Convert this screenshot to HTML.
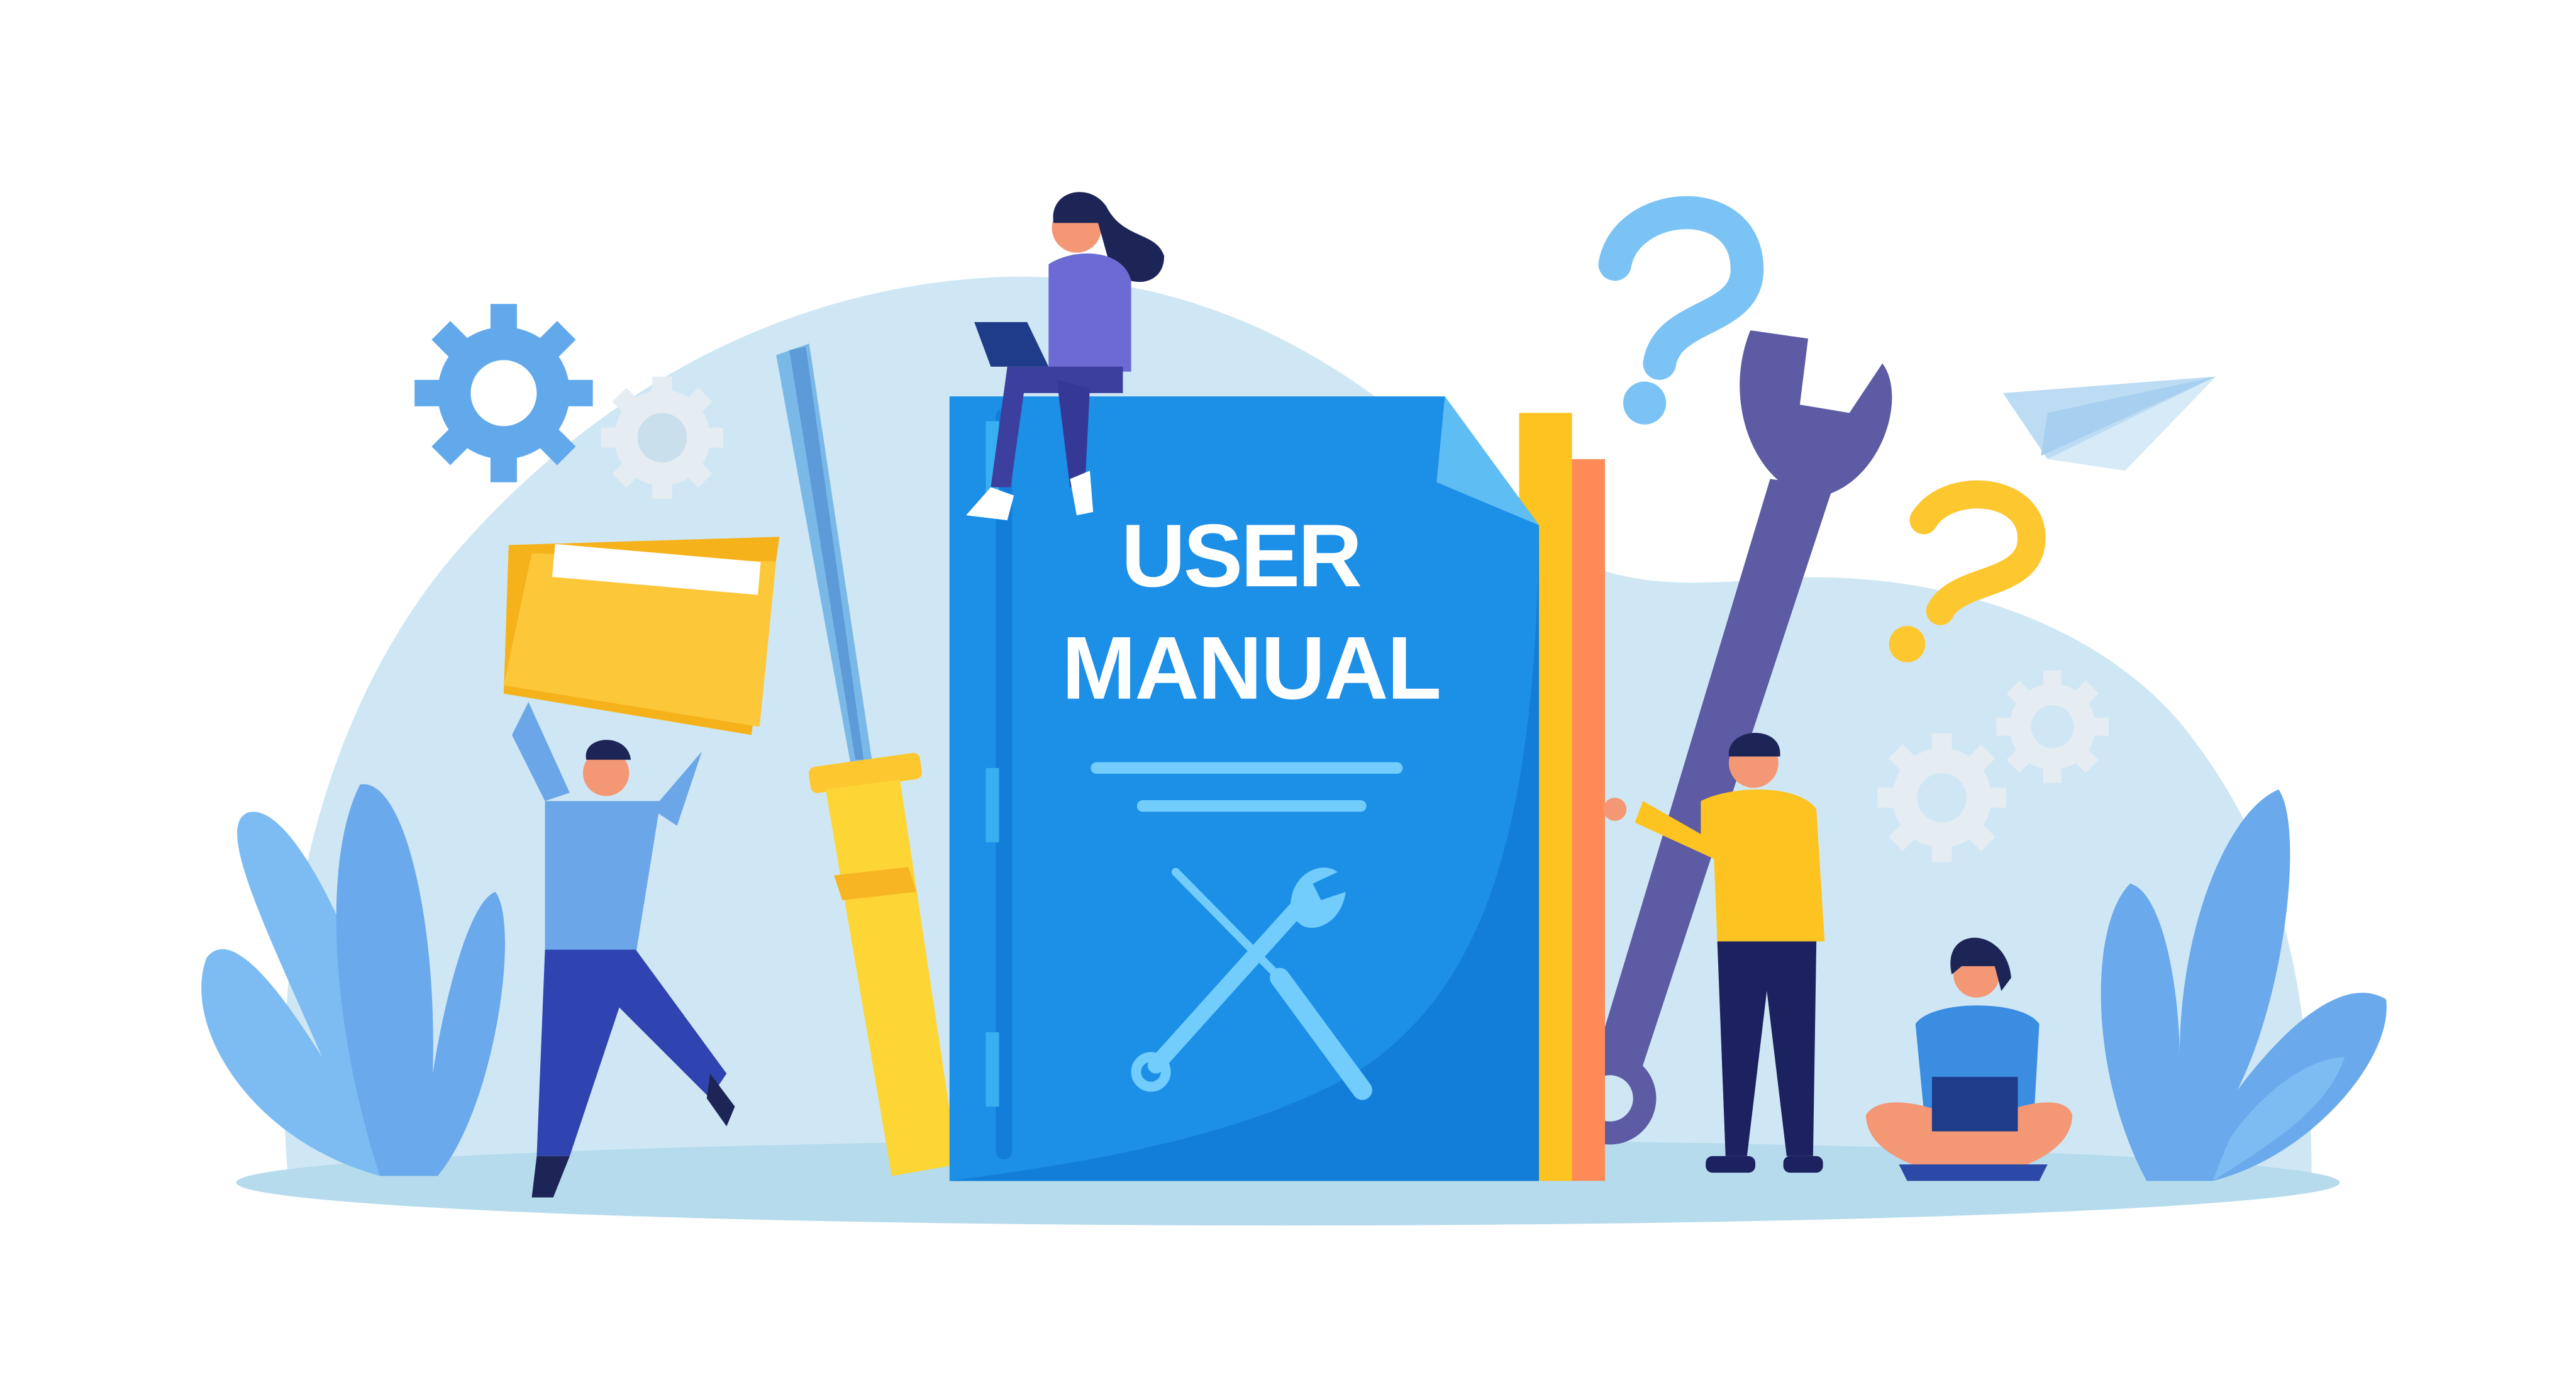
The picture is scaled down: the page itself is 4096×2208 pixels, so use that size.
<!DOCTYPE html>
<html><head><meta charset="utf-8"><style>
html,body{margin:0;padding:0;background:#fff;}
svg{display:block;}
</style></head><body>
<svg width="4096" height="2208" viewBox="0 0 1560 841" xmlns="http://www.w3.org/2000/svg">
<rect width="1560" height="841" fill="#fff"/>
<path d="M175 720 C160 560 200 420 280 330 C360 240 470 175 600 168 C720 162 820 215 900 300 C960 360 1010 355 1080 350 C1180 345 1280 380 1330 450 C1390 530 1400 620 1400 720 Z" fill="#cfe7f4"/>
<ellipse cx="780" cy="716" rx="637" ry="26" fill="#b6dbec"/>
<g fill="#62a9ec">
<circle cx="305" cy="238" r="40"/>
<g stroke="#62a9ec" stroke-width="16" stroke-linecap="butt">
<line x1="305" y1="184" x2="305" y2="292"/><line x1="251" y1="238" x2="359" y2="238"/>
<line x1="267" y1="200" x2="343" y2="276"/><line x1="343" y1="200" x2="267" y2="276"/>
</g></g>
<circle cx="305" cy="238" r="20" fill="#fff"/>
<g fill="#e6edf2">
<circle cx="401" cy="265" r="29"/>
<g stroke="#e6edf2" stroke-width="12"><line x1="401" y1="228" x2="401" y2="302"/><line x1="364" y1="265" x2="438" y2="265"/><line x1="375" y1="239" x2="427" y2="291"/><line x1="427" y1="239" x2="375" y2="291"/></g></g>
<circle cx="401" cy="265" r="15" fill="#c9dfec"/>
<g fill="#e6edf2">
<circle cx="1176" cy="483" r="30"/><g stroke="#e6edf2" stroke-width="12"><line x1="1176" y1="444" x2="1176" y2="522"/><line x1="1137" y1="483" x2="1215" y2="483"/><line x1="1148" y1="455" x2="1204" y2="511"/><line x1="1204" y1="455" x2="1148" y2="511"/></g>
<circle cx="1243" cy="440" r="26"/><g stroke="#e6edf2" stroke-width="11"><line x1="1243" y1="406" x2="1243" y2="474"/><line x1="1209" y1="440" x2="1277" y2="440"/><line x1="1219" y1="416" x2="1267" y2="464"/><line x1="1267" y1="416" x2="1219" y2="464"/></g></g>
<circle cx="1176" cy="483" r="15" fill="#cfe7f4"/><circle cx="1243" cy="440" r="13" fill="#cfe7f4"/>
<path d="M978 160 C985 120 1060 115 1058 165 C1056 195 1010 190 1005 220" fill="none" stroke="#7cc3f5" stroke-width="20" stroke-linecap="round"/>
<circle cx="996" cy="244" r="13" fill="#7cc3f5"/>
<path d="M1165 315 C1180 290 1235 295 1230 330 C1226 355 1185 350 1175 370" fill="none" stroke="#fdc72f" stroke-width="17" stroke-linecap="round"/>
<circle cx="1155" cy="390" r="11" fill="#fdc72f"/>
<polygon points="1213,238 1342,228 1240,278" fill="#bcdcf4"/>
<polygon points="1342,228 1240,278 1287,285" fill="#d6eaf8"/>
<polygon points="1240,250 1342,228 1236,276" fill="#a6cff0"/>
<g fill="#7dbcf2">
<path d="M230 712 C150 690 110 620 125 580 C140 560 170 600 195 640 C160 560 130 500 150 492 C175 485 210 560 230 620 Z"/>
<path d="M230 712 C200 620 195 520 218 475 C245 470 265 560 262 650 C270 600 285 545 300 540 C315 560 300 670 265 712 Z" fill="#6aa9ec"/>
</g>
<path d="M1300 715 C1265 650 1265 560 1290 535 C1310 540 1320 600 1320 640 C1320 560 1350 490 1380 478 C1395 500 1385 600 1355 660 C1385 620 1420 590 1445 605 C1450 640 1400 700 1340 715 Z" fill="#6aa9ec"/>
<path d="M1340 715 C1380 690 1410 670 1420 640 C1400 640 1370 660 1350 690 Z" fill="#7dbcf2"/>
<path d="M1072 290 L965 645 L990 660 L1110 295 Z" fill="#5c5ba4"/>
<path d="M1070 200 C1050 250 1080 305 1115 300 C1150 290 1165 240 1150 220 L1130 250 L1100 245 L1105 205 Z" fill="#5c5ba4" transform="translate(-10,0)"/>
<circle cx="975" cy="665" r="28" fill="#5c5ba4"/><circle cx="975" cy="665" r="14" fill="#cfe7f4"/>
<polygon points="470,215 490,208 528,460 515,462" fill="#7ab8e8"/>
<polygon points="478,212 488,210 523,460 518,460" fill="#5c9ad8"/>
<rect x="490" y="460" width="68" height="16" rx="4" fill="#fdc72f" transform="rotate(-8 524 468)"/>
<polygon points="500,478 545,472 580,705 540,712" fill="#fdd535"/>
<polygon points="505,530 550,525 555,540 510,545" fill="#f7b524"/>
<rect x="945" y="278" width="27" height="437" fill="#fd8a57"/>
<rect x="920" y="250" width="32" height="465" fill="#fdc321"/>
<polygon points="575,240 875,240 932,318 932,715 575,715" fill="#1c8fe7"/>
<path d="M932 318 C930 500 900 600 820 650 C750 690 650 705 575 715 L932 715 Z" fill="#137ed9"/>
<polygon points="875,240 932,318 870,292" fill="#5ebdf2"/>
<rect x="603" y="247" width="10" height="455" rx="5" fill="#137ed9"/>
<g fill="#37b0f2"><rect x="597" y="255" width="8" height="50"/><rect x="597" y="465" width="8" height="45"/><rect x="597" y="625" width="8" height="45"/></g>
<text x="752" y="355" text-anchor="middle" font-family="Liberation Sans, sans-serif" font-weight="bold" font-size="54" textLength="146" fill="#fff">USER</text>
<text x="758" y="423" text-anchor="middle" font-family="Liberation Sans, sans-serif" font-weight="bold" font-size="54" textLength="230" fill="#fff">MANUAL</text>
<line x1="664" y1="465" x2="846" y2="465" stroke="#72cdfd" stroke-width="7" stroke-linecap="round"/>
<line x1="692" y1="488" x2="824" y2="488" stroke="#72cdfd" stroke-width="7" stroke-linecap="round"/>
<g stroke="#72cdfd" stroke-linecap="round" fill="none">
<line x1="712" y1="528" x2="775" y2="592" stroke-width="5"/>
<line x1="775" y1="592" x2="825" y2="660" stroke-width="12"/>
<line x1="700" y1="645" x2="790" y2="545" stroke-width="10"/>
<circle cx="697" cy="649" r="9" stroke-width="6"/>
</g>
<path d="M782 555 C778 530 800 520 810 528 L795 535 L800 545 L815 540 C812 560 795 565 788 560 Z" fill="#72cdfd"/>
<circle cx="652" cy="138" r="15" fill="#f49775"/>
<path d="M638 135 C635 115 660 110 670 125 C680 145 700 140 705 155 C705 175 680 175 672 160 L665 135 Z" fill="#1d2456"/>
<path d="M635 160 C650 150 680 150 685 170 L685 225 L635 225 Z" fill="#6b6bd3"/>
<path d="M610 222 L680 222 L680 238 L620 238 L612 295 L600 295 Z" fill="#3c3f9e"/>
<path d="M640 230 L660 235 L657 295 L648 295 Z" fill="#353894"/>
<polygon points="590,195 622,195 635,222 600,222" fill="#1f3c8a"/>
<path d="M585 312 L600 295 L614 300 L610 315 Z" fill="#fff"/>
<path d="M648 290 L660 285 L662 310 L652 312 Z" fill="#fff"/>
<polygon points="308,330 472,325 455,445 305,420" fill="#f5b21b"/>
<polygon points="322,335 470,340 460,440 305,415" fill="#fdc73a"/>
<rect x="335" y="335" width="125" height="20" fill="#fff" transform="rotate(5 400 345)"/>
<circle cx="367" cy="468" r="14" fill="#f49775"/>
<path d="M355 460 C352 445 380 443 382 460 Z" fill="#1d2456"/>
<path d="M330 485 L400 485 L385 578 L330 575 Z" fill="#6ba6e8"/>
<path d="M330 485 L310 445 L320 425 L345 480 Z" fill="#6ba6e8"/>
<path d="M395 490 L425 455 L430 440 L410 500 Z" fill="#6ba6e8"/>
<path d="M330 575 L385 575 L440 650 L430 665 L375 610 L345 700 L325 700 Z" fill="#3044b1"/>
<path d="M325 700 L345 700 L335 725 L322 725 Z" fill="#1d2456"/>
<path d="M430 650 L445 670 L440 682 L428 665 Z" fill="#1d2456"/>
<circle cx="1062" cy="462" r="15" fill="#f49775"/>
<path d="M1047 458 C1045 440 1080 438 1078 458 Z" fill="#1d2456"/>
<path d="M1030 485 C1050 475 1090 475 1100 490 L1105 570 L1040 570 L1038 520 L990 498 L995 485 L1030 505 Z" fill="#fdc321"/>
<circle cx="978" cy="490" r="7" fill="#f49775"/>
<path d="M1040 570 L1100 570 L1098 700 L1082 700 L1070 600 L1058 700 L1045 700 Z" fill="#1c2160"/>
<rect x="1033" y="700" width="30" height="10" rx="4" fill="#1c2160"/><rect x="1080" y="700" width="24" height="10" rx="4" fill="#1c2160"/>
<circle cx="1197" cy="590" r="14" fill="#f49775"/>
<path d="M1182 590 C1175 560 1215 560 1218 592 L1212 600 L1208 585 L1188 585 Z" fill="#1d2456"/>
<path d="M1160 620 C1170 605 1225 605 1235 620 L1232 672 L1165 672 Z" fill="#3b8de2"/>
<path d="M1130 675 C1140 660 1175 670 1195 682 C1215 670 1250 660 1255 675 C1255 700 1215 712 1195 712 C1170 712 1130 700 1130 675 Z" fill="#f49775"/>
<rect x="1170" y="652" width="52" height="33" fill="#1f3c8a"/>
<path d="M1150 705 L1240 705 L1235 715 L1155 715 Z" fill="#2d49a8"/>
</svg>
</body></html>
